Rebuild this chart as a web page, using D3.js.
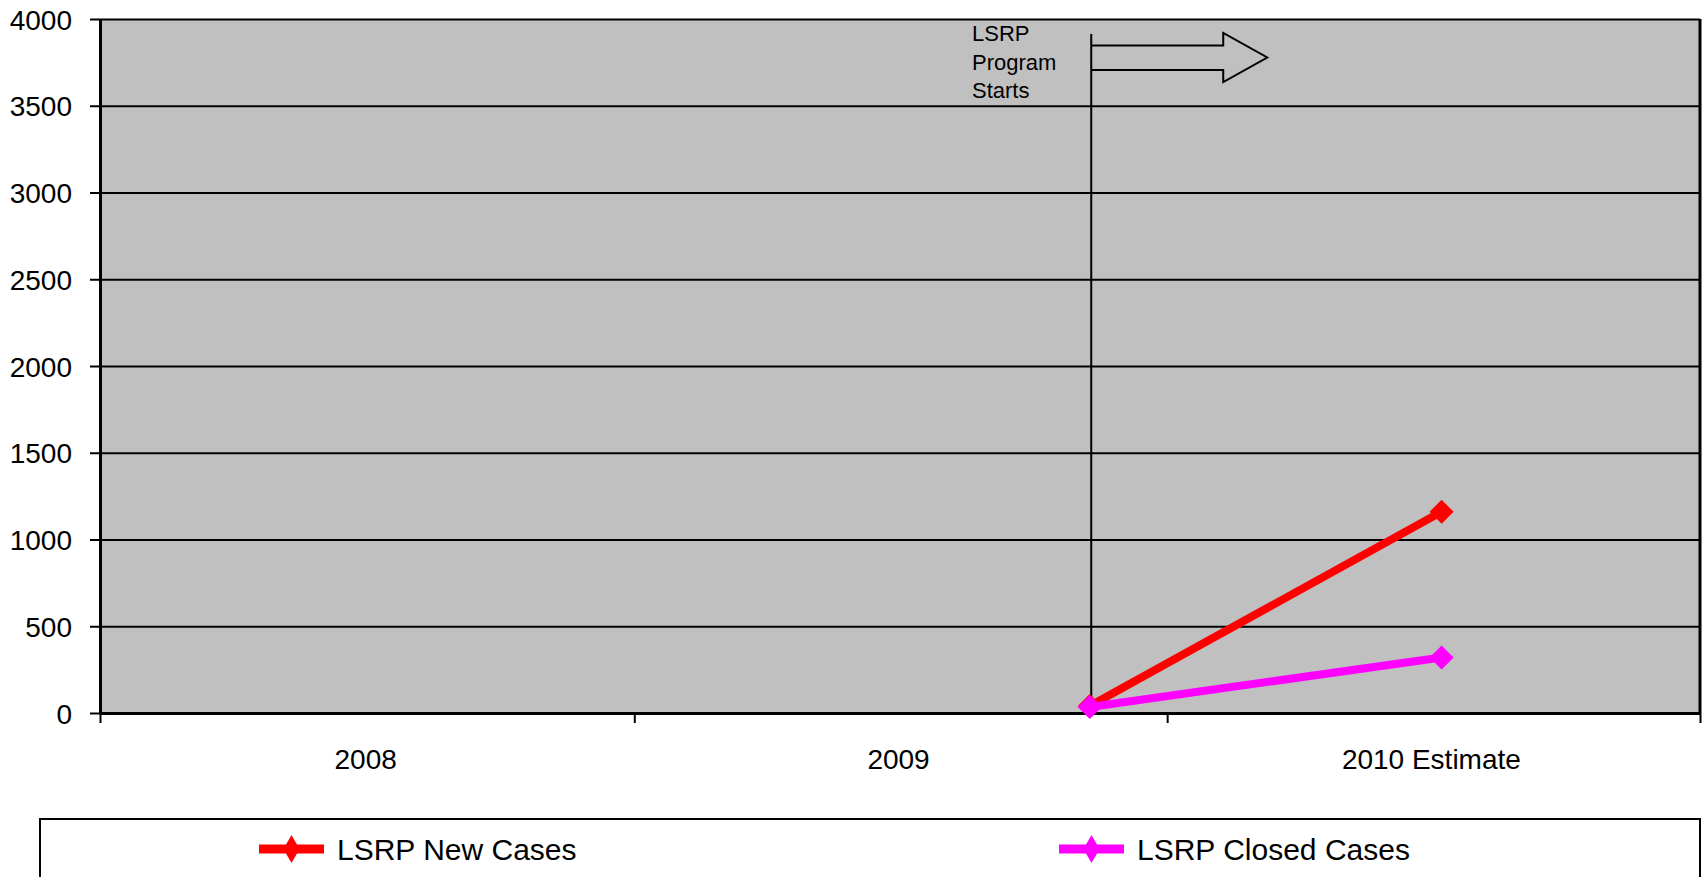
<!DOCTYPE html>
<html>
<head>
<meta charset="utf-8">
<script src="https://cdn.jsdelivr.net/npm/d3@7"></script>
<style>
  body { margin: 0; background: #fff; }
  text { font-family: Arial, "Liberation Sans", sans-serif; fill: #000; }
</style>
</head>
<body>
<svg id="chart" width="1707" height="877"></svg>
<script>
var years = ["2008", "2009", "2010 Estimate"];
var yearMids = ["2008-07-01", "2009-07-01", "2010-07-01"];
var yearEdges = ["2008-01-01", "2009-01-01", "2010-01-01", "2011-01-01"];
var pointDates = ["2009-11-09", "2010-07-08"];
var newCases = [40, 1160];
var closedCases = [35, 320];
var yTicks = [0, 500, 1000, 1500, 2000, 2500, 3000, 3500, 4000];
var programStart = "2009-11-10";
var seriesNames = ["LSRP New Cases", "LSRP Closed Cases"];
var seriesColors = ["#FF0000", "#FF00FF"];

var parse = d3.timeParse("%Y-%m-%d");
var svg = d3.select("#chart");
var plotLeft = 100, plotRight = 1700, plotTop = 19, plotBottom = 713;

var x = d3.scaleTime().domain([parse(yearEdges[0]), parse(yearEdges[3])]).range([plotLeft, plotRight]);
var y = d3.scaleLinear().domain([0, 4000]).range([plotBottom, plotTop]);

// plot background
svg.append("rect")
    .attr("x", plotLeft).attr("y", plotTop)
    .attr("width", plotRight - plotLeft).attr("height", plotBottom - plotTop)
    .attr("fill", "#C0C0C0");

// gridlines
svg.append("g")
    .attr("transform", "translate(" + plotLeft + ",0)")
    .call(d3.axisLeft(y).tickValues(yTicks).tickSize(-(plotRight - plotLeft)).tickFormat(""))
    .call(function (g) { g.select(".domain").remove(); })
    .selectAll("line").attr("stroke", "#000").attr("stroke-width", 2);

// y axis
var yAxis = svg.append("g")
    .attr("transform", "translate(" + plotLeft + ",0)")
    .call(d3.axisLeft(y).tickValues(yTicks).tickSize(10).tickSizeOuter(0).tickPadding(18).tickFormat(d3.format("d")));
yAxis.select(".domain").attr("stroke", "#000").attr("stroke-width", 3);
yAxis.selectAll("line").attr("stroke", "#000").attr("stroke-width", 2);
yAxis.selectAll("text").style("font-size", "28px").attr("dy", "0.36em");

// x axis
var xAxis = svg.append("g")
    .attr("transform", "translate(0," + plotBottom + ")")
    .call(d3.axisBottom(x).tickValues(yearEdges.map(parse)).tickSize(10).tickSizeOuter(0).tickFormat(""));
xAxis.select(".domain").attr("stroke", "#000").attr("stroke-width", 3);
xAxis.selectAll("line").attr("stroke", "#000").attr("stroke-width", 2);

// right border
svg.append("line")
    .attr("x1", plotRight).attr("x2", plotRight).attr("y1", plotTop).attr("y2", plotBottom)
    .attr("stroke", "#000").attr("stroke-width", 3);

svg.selectAll(".cat")
    .data(years)
    .enter()
    .append("text")
    .attr("class", "cat")
    .attr("x", function (d, i) { return x(parse(yearMids[i])); })
    .attr("y", 769)
    .attr("text-anchor", "middle")
    .style("font-size", "28px")
    .text(function (d) { return d; });

// program start annotation
var px = x(parse(programStart));
svg.append("line")
    .attr("x1", px).attr("x2", px).attr("y1", 34).attr("y2", plotBottom)
    .attr("stroke", "#000").attr("stroke-width", 2);
svg.append("path")
    .attr("d", "M" + px + ",45.5 H" + (px + 132) + " V33 L" + (px + 176) + ",57.5 L" + (px + 132) + ",82 V70 H" + px)
    .attr("fill", "none").attr("stroke", "#000").attr("stroke-width", 2);
svg.selectAll(".note")
    .data(["LSRP", "Program", "Starts"])
    .enter()
    .append("text")
    .attr("class", "note")
    .attr("x", 972)
    .attr("y", function (d, i) { return 41 + i * 28.5; })
    .style("font-size", "22px")
    .text(function (d) { return d; });

// series
var series = [newCases, closedCases];
var line = d3.line()
    .x(function (d, i) { return x(parse(pointDates[i])); })
    .y(function (d) { return y(d); });

series.forEach(function (vals, s) {
    svg.append("path")
        .attr("d", line(vals))
        .attr("fill", "none")
        .attr("stroke", seriesColors[s])
        .attr("stroke-width", 8);
    svg.selectAll(".m" + s)
        .data(vals)
        .enter()
        .append("path")
        .attr("class", "m" + s)
        .attr("d", d3.symbol(d3.symbolSquare, 290)())
        .attr("transform", function (d, i) {
            return "translate(" + x(parse(pointDates[i])) + "," + y(d) + ") rotate(45)";
        })
        .attr("fill", seriesColors[s]);
});

// legend
svg.append("rect")
    .attr("x", 40).attr("y", 819)
    .attr("width", 1660).attr("height", 80)
    .attr("fill", "none").attr("stroke", "#000").attr("stroke-width", 2);

var legX = [259, 1059];
seriesNames.forEach(function (name, s) {
    var g = svg.append("g").attr("transform", "translate(" + legX[s] + ",849)");
    g.append("line")
        .attr("x1", 0).attr("x2", 65)
        .attr("stroke", seriesColors[s]).attr("stroke-width", 9);
    g.append("path")
        .attr("d", d3.symbol(d3.symbolDiamond, 226)())
        .attr("transform", "translate(32.5,0)")
        .attr("fill", seriesColors[s]);
    g.append("text")
        .attr("x", 78)
        .attr("y", 11)
        .style("font-size", "30px")
        .text(name);
});
</script>
</body>
</html>
